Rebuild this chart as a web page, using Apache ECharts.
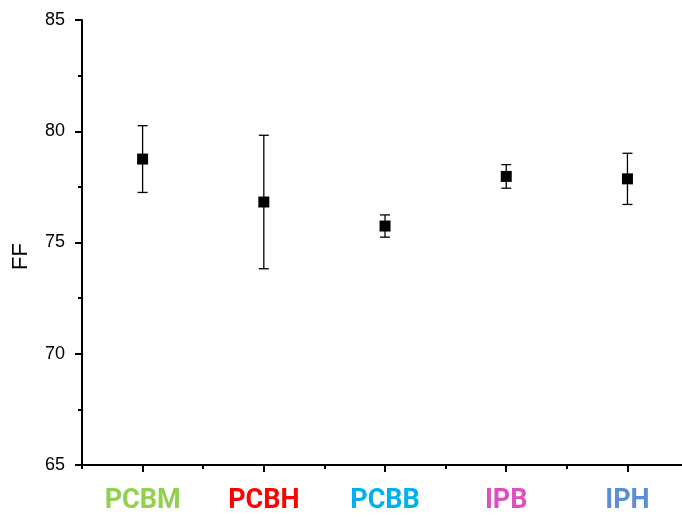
<!DOCTYPE html>
<html><head><meta charset="utf-8">
<script src="https://cdn.jsdelivr.net/npm/echarts@6/dist/echarts.min.js"></script>
<style>html,body{margin:0;padding:0;background:#fff}#c{width:682px;height:517px}</style>
</head><body><div id="c"></div>
<script>
const categories = ['PCBM','PCBH','PCBB','IPB','IPH'];
const labelColors = ['#92D050','#FF0000','#00B0F0','#DD4FBE','#5B8ED6'];
const meanFF = [78.75, 76.82, 75.74, 77.97, 77.86];
const errFF = [1.50, 3.00, 0.50, 0.53, 1.15];
const yTicks = [65, 70, 75, 80, 85];

const pts = meanFF.map((v,i)=>[i+1, v]);
const errs = meanFF.map((v,i)=>[i+1, v-errFF[i], v+errFF[i]]);
const rich = {};
categories.forEach((c,i)=>{ rich['c'+i] = {color: labelColors[i], fontFamily:'Roboto', fontWeight:'bold', fontSize:27}; });

const chart = echarts.init(document.getElementById('c'));
chart.setOption({
  animation:false,
  grid:{left:82, right:0, top:20, bottom:52},
  xAxis:[{
    type:'value', min:0.5, max:5.45,
    axisLine:{lineStyle:{color:'#000', width:2}},
    axisTick:{show:true, customValues:[1,2,3,4,5], length:7, lineStyle:{color:'#000', width:2}},
    axisLabel:{customValues:[1,2,3,4,5], margin:23,
      formatter:(v)=>{const i=Math.round(v)-1; return '{c'+i+'|'+categories[i]+'}';}, rich:rich},
    splitLine:{show:false}
  },{
    type:'value', min:0.5, max:5.45, position:'bottom',
    axisLine:{show:false},
    axisTick:{show:true, customValues:[0.5,1.5,2.5,3.5,4.5], length:4, lineStyle:{color:'#000', width:2}},
    axisLabel:{show:false}, splitLine:{show:false}
  }],
  yAxis:{
    type:'value', min:yTicks[0], max:yTicks[yTicks.length-1], interval:5,
    name:'FF', nameLocation:'middle', nameGap:50,
    nameTextStyle:{fontFamily:'Liberation Sans', fontSize:22, color:'#000', padding:[0,28,0,0]},
    axisLine:{show:true, lineStyle:{color:'#000', width:2}},
    axisTick:{show:true, length:7, lineStyle:{color:'#000', width:2}},
    minorTick:{show:true, splitNumber:2, length:4, lineStyle:{color:'#000', width:2}},
    axisLabel:{fontFamily:'Liberation Sans', fontSize:18, color:'#000', margin:17},
    splitLine:{show:false}
  },
  series:[{
    type:'custom',
    data:errs,
    renderItem:(params, api)=>{
      const x = api.value(0);
      const lo = api.coord([x, api.value(1)]);
      const hi = api.coord([x, api.value(2)]);
      const hw = 5;
      const st = {stroke:'#000', lineWidth:1.3};
      return {type:'group', children:[
        {type:'line', shape:{x1:lo[0], y1:lo[1], x2:hi[0], y2:hi[1]}, style:st},
        {type:'line', shape:{x1:lo[0]-hw, y1:lo[1], x2:lo[0]+hw, y2:lo[1]}, style:st},
        {type:'line', shape:{x1:hi[0]-hw, y1:hi[1], x2:hi[0]+hw, y2:hi[1]}, style:st}
      ]};
    },
    z:2
  },{
    type:'scatter', data:pts, symbol:'rect', symbolSize:11,
    itemStyle:{color:'#000', opacity:1}, z:3
  }]
});
</script></body></html>
